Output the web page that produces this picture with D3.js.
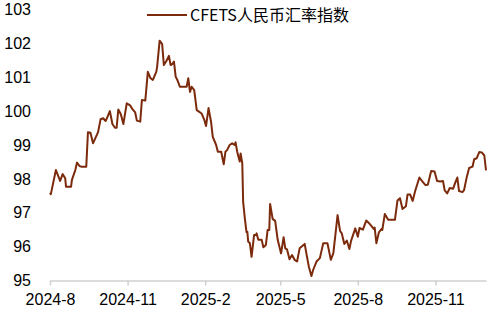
<!DOCTYPE html>
<html>
<head>
<meta charset="utf-8">
<script src="https://cdn.jsdelivr.net/npm/d3@7"></script>
<style>
  body { margin: 0; background: #fff; }
  .chart text { font-family: "Liberation Sans", Arial, sans-serif; }
</style>
</head>
<body>
<div class="chart"></div>
<script>
// CFETS index
const dates = [
  "2024-08-01","2024-08-02","2024-08-08","2024-08-13","2024-08-16","2024-08-19","2024-08-20","2024-08-26","2024-08-27","2024-08-31",
  "2024-09-02","2024-09-05","2024-09-07","2024-09-13","2024-09-15","2024-09-18","2024-09-21","2024-09-25","2024-09-27","2024-09-30",
  "2024-10-03","2024-10-06","2024-10-08","2024-10-11","2024-10-14","2024-10-17","2024-10-19","2024-10-21","2024-10-24","2024-10-27",
  "2024-10-31","2024-11-04","2024-11-07","2024-11-10","2024-11-12","2024-11-16","2024-11-18","2024-11-22","2024-11-25","2024-11-28",
  "2024-12-01","2024-12-05","2024-12-06","2024-12-09","2024-12-12","2024-12-14","2024-12-17","2024-12-20","2024-12-22","2024-12-24",
  "2024-12-26","2024-12-28","2024-12-30","2025-01-02","2025-01-10","2025-01-12","2025-01-14","2025-01-16","2025-01-19","2025-01-22",
  "2025-01-25","2025-01-28","2025-01-31","2025-02-02","2025-02-05","2025-02-08","2025-02-10","2025-02-14","2025-02-16","2025-02-20",
  "2025-02-23","2025-02-25","2025-02-27","2025-03-02","2025-03-05","2025-03-08","2025-03-09","2025-03-11","2025-03-12","2025-03-14",
  "2025-03-15","2025-03-17","2025-03-18","2025-03-20","2025-03-22","2025-03-23","2025-03-24","2025-03-26","2025-03-28","2025-03-31",
  "2025-04-02","2025-04-03","2025-04-05","2025-04-09","2025-04-11","2025-04-14","2025-04-16","2025-04-18","2025-04-19","2025-04-22",
  "2025-04-25","2025-04-28","2025-05-02","2025-05-05","2025-05-07","2025-05-09","2025-05-12","2025-05-15","2025-05-18","2025-05-21",
  "2025-05-24","2025-05-30","2025-06-01","2025-06-04","2025-06-07","2025-06-09","2025-06-13","2025-06-17","2025-06-21","2025-06-26",
  "2025-06-30","2025-07-03","2025-07-08","2025-07-11","2025-07-13","2025-07-16","2025-07-19","2025-07-22","2025-07-24","2025-07-29",
  "2025-08-01","2025-08-03","2025-08-07","2025-08-11","2025-08-14","2025-08-17","2025-08-20","2025-08-21","2025-08-23","2025-08-26",
  "2025-08-29","2025-08-30","2025-09-02","2025-09-06","2025-09-14","2025-09-17","2025-09-20","2025-09-23","2025-09-27","2025-09-29",
  "2025-10-02","2025-10-05","2025-10-08","2025-10-13","2025-10-16","2025-10-20","2025-10-23","2025-10-27","2025-10-31","2025-11-03",
  "2025-11-07","2025-11-10","2025-11-12","2025-11-15","2025-11-18","2025-11-22","2025-11-25","2025-11-27","2025-11-29","2025-12-03",
  "2025-12-05","2025-12-08","2025-12-11","2025-12-15","2025-12-17","2025-12-20","2025-12-23","2025-12-26","2025-12-29","2025-12-31"
]
const values = [
  97.59,97.55,98.26,97.94,98.14,98.02,97.77,97.77,97.97,98.26,
  98.48,98.38,98.36,98.36,99.38,99.36,99.05,99.27,99.38,99.76,
  99.79,99.71,99.82,100.00,99.62,99.51,99.51,100.05,99.91,99.62,
  100.23,100.17,100.05,99.96,99.72,99.69,100.33,100.31,101.16,100.98,
  100.92,101.16,101.30,102.08,101.98,101.36,101.48,101.63,101.36,101.39,
  101.46,101.02,100.92,100.72,100.72,100.97,100.57,100.72,100.62,100.03,
  99.98,99.92,99.74,99.56,100.09,99.68,99.24,99.00,98.80,98.80,
  98.43,98.80,98.85,99.00,99.05,99.00,99.08,98.80,98.70,98.51,
  98.75,98.46,97.33,96.84,96.43,96.44,96.15,96.10,95.70,96.34,
  96.34,96.39,96.20,96.20,95.98,96.05,96.49,96.49,97.26,96.82,
  96.76,96.20,95.80,96.28,95.95,95.92,95.63,95.75,95.61,95.56,
  95.95,96.08,95.80,95.40,95.13,95.31,95.56,95.66,96.10,96.10,
  95.61,95.81,96.93,96.46,96.39,96.08,96.18,95.93,96.17,96.54,
  96.29,96.55,96.50,96.77,96.70,96.61,96.52,96.56,96.10,96.42,
  96.52,96.49,96.96,96.79,96.79,97.36,97.43,97.11,97.19,97.54,
  97.54,97.35,97.64,98.04,97.94,97.82,97.83,98.23,98.22,97.94,
  97.92,97.94,97.66,97.57,97.73,97.71,97.92,98.04,97.64,97.61,
  97.67,98.03,98.32,98.36,98.58,98.61,98.79,98.78,98.69,98.25
]
const yTicks = [95, 96, 97, 98, 99, 100, 101, 102, 103]
const xTickDates = ["2024-08-01","2024-11-01","2025-02-01","2025-05-01","2025-08-01","2025-11-01"]
const xTickLabels = ["2024-8","2024-11","2025-2","2025-5","2025-8","2025-11"]
const seriesName = "CFETS人民币汇率指数"

const width = 488, height = 312
const lineColor = "#7c2a0c"
const parse = d3.timeParse("%Y-%m-%d")

const data = dates.map((d, i) => ({ date: parse(d), value: values[i] }))

const svg = d3.select(".chart")
  .append("svg")
    .attr("width", width)
    .attr("height", height)

let x = d3.scaleTime()
  .domain([parse("2024-08-01"), parse("2025-12-31")])
  .range([50, 486])

let y = d3.scaleLinear()
  .domain([95, 103])
  .range([280.5, 9.5])

// x axis
const xAxis = svg.append("g")
  .attr("transform", "translate(0," + y(95) + ")")
  .call(d3.axisBottom(x)
    .tickValues(xTickDates.map(parse))
    .tickFormat((d, i) => xTickLabels[i])
    .tickSize(5)
    .tickSizeOuter(0)
    .tickPadding(8))
xAxis.select(".domain").attr("stroke", "#d0d0d0").attr("stroke-width", 1.5)
xAxis.selectAll(".tick line").attr("stroke", "#d0d0d0").attr("stroke-width", 1.5)
xAxis.selectAll("text")
  .attr("font-size", 16)
  .attr("fill", "#000")

// y axis, labels only
const yAxis = svg.append("g")
  .attr("transform", "translate(34,0)")
  .call(d3.axisLeft(y).tickValues(yTicks).tickSize(0).tickPadding(3))
yAxis.select(".domain").remove()
yAxis.selectAll("text")
  .attr("font-size", 16)
  .attr("fill", "#000")

// series
const line = d3.line()
  .x(d => x(d.date))
  .y(d => y(d.value))

svg.append("path")
  .datum(data)
  .attr("fill", "none")
  .attr("stroke", lineColor)
  .attr("stroke-width", 2)
  .attr("stroke-linejoin", "round")
  .attr("d", line)

// legend
const legend = svg.append("g").attr("transform", "translate(147,15)")
legend.append("line")
  .attr("x1", 0).attr("x2", 40)
  .attr("stroke", lineColor)
  .attr("stroke-width", 2)
legend.append("text")
  .attr("x", 43)
  .attr("dy", "0.36em")
  .attr("font-size", 16)
  .style("font-family", "'Noto Sans CJK SC', sans-serif")
  .attr("fill", "#000")
  .text(seriesName)
</script>
</body>
</html>
